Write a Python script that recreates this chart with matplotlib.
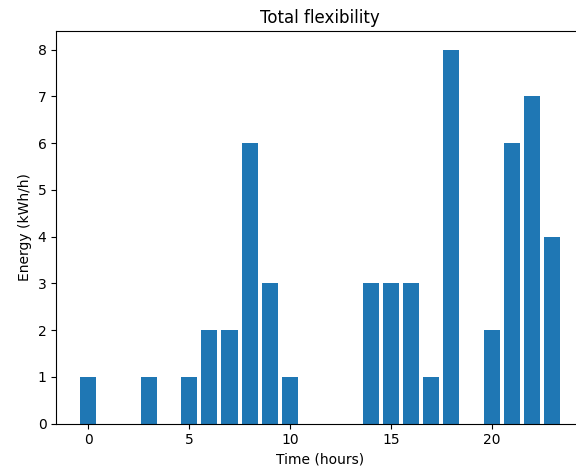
import matplotlib
matplotlib.use("Agg")
import matplotlib.pyplot as plt

hours = list(range(24))
flexibility = [1, 0, 0, 1, 0, 1, 2, 2, 6, 3, 1, 0, 0, 0, 3, 3, 3, 1, 8, 0, 2, 6, 7, 4]

fig = plt.figure(figsize=(5.76, 4.74), dpi=100)
ax = fig.add_axes([0.0976, 0.1061, 0.9167, 0.8285])
ax.bar(hours, flexibility, color="#1f77b4")
ax.set_title("Total flexibility")
ax.set_xlabel("Time (hours)")
ax.set_ylabel("Energy (kWh/h)")
fig.savefig("out.png", dpi=100)
